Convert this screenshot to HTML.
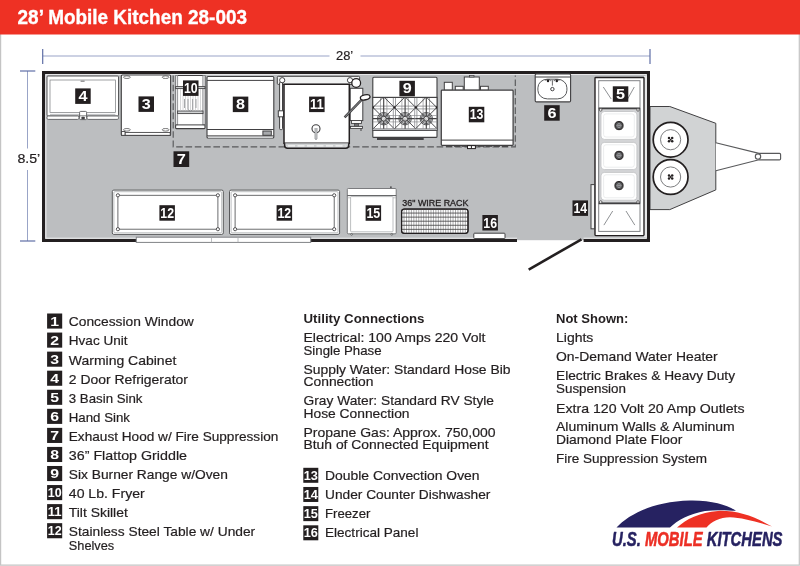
<!DOCTYPE html>
<html lang="en"><head><meta charset="utf-8"><title>28’ Mobile Kitchen 28-003</title>
<style>
html,body{margin:0;padding:0;background:#fff}
body{width:800px;height:566px;overflow:hidden}
svg{display:block;will-change:transform}
text{font-family:"Liberation Sans",sans-serif}
.title{font-size:20.4px;font-weight:bold;fill:#fff;stroke:#fff;stroke-width:0.35px}
.dim{font-size:12.4px;fill:#231f20;stroke:#231f20;stroke-width:0.2px}
.lb{font-size:13.2px;font-weight:bold;fill:#fff}
.t{font-size:13.2px;fill:#231f20;stroke:#231f20;stroke-width:0.2px}
.tb{font-size:13.2px;font-weight:bold;fill:#231f20}
.wr{font-size:8.8px;fill:#231f20;stroke:#231f20;stroke-width:0.3px}
.logo{font-size:21px;font-weight:bold;font-style:italic;stroke-width:0.55px;stroke-linejoin:round}
</style></head><body>
<svg width="800" height="566" viewBox="0 0 800 566">
<rect x="0" y="0" width="800" height="566" fill="#fff"/>
<path d="M0.6 34V565.2H799.3V34" fill="none" stroke="#c4c4c4" stroke-width="1.2"/>
<rect x="0" y="0" width="800" height="34.5" fill="#ee3124"/>
<text x="17.6" y="24.0" class="title" textLength="229.4" lengthAdjust="spacingAndGlyphs">28’ Mobile Kitchen 28-003</text>
<line x1="42.70" y1="56.00" x2="329.50" y2="56.00" stroke="#8794bd" stroke-width="0.85" />
<line x1="360.50" y1="56.00" x2="650.00" y2="56.00" stroke="#8794bd" stroke-width="0.85" />
<line x1="42.70" y1="49.00" x2="42.70" y2="64.00" stroke="#5f6ea6" stroke-width="1.20" />
<line x1="650.00" y1="49.00" x2="650.00" y2="64.00" stroke="#5f6ea6" stroke-width="1.20" />
<text x="336" y="60.4" class="dim" textLength="17.2" lengthAdjust="spacingAndGlyphs">28’</text>
<line x1="27.50" y1="71.00" x2="27.50" y2="148.50" stroke="#8794bd" stroke-width="0.85" />
<line x1="27.50" y1="170.00" x2="27.50" y2="241.00" stroke="#8794bd" stroke-width="0.85" />
<line x1="20.00" y1="71.00" x2="35.30" y2="71.00" stroke="#5f6ea6" stroke-width="1.20" />
<line x1="20.00" y1="241.00" x2="35.30" y2="241.00" stroke="#5f6ea6" stroke-width="1.20" />
<text x="17.4" y="163.1" class="dim" textLength="22.8" lengthAdjust="spacingAndGlyphs">8.5’</text>
<polygon points="650,106.5 669.8,106.5 715.8,123.3 715.8,189.9 669.8,209.6 650,209.6" fill="#d1d3d4" stroke="#414042" stroke-width="1"/>
<path d="M715.8 142.8L759 153.4H779.5Q780.6 153.4 780.6 154.5V158.7Q780.6 159.8 779.5 159.8H759L715.8 170.8" fill="#fff" stroke="#58595b" stroke-width="1.15"/>
<circle cx="758.00" cy="156.60" r="2.7" fill="#fff" stroke="#58595b" stroke-width="1.10" />
<circle cx="670.60" cy="139.70" r="17.4" fill="#fff" stroke="#231f20" stroke-width="1.70" />
<circle cx="670.60" cy="139.70" r="10.1" fill="#fff" stroke="#6d6e71" stroke-width="0.90" />
<circle cx="669.00" cy="138.10" r="1.25" fill="#231f20" stroke="none" stroke-width="0.00" />
<circle cx="672.20" cy="138.10" r="1.25" fill="#231f20" stroke="none" stroke-width="0.00" />
<circle cx="669.00" cy="141.30" r="1.25" fill="#231f20" stroke="none" stroke-width="0.00" />
<circle cx="672.20" cy="141.30" r="1.25" fill="#231f20" stroke="none" stroke-width="0.00" />
<circle cx="670.60" cy="139.70" r="1.0" fill="#231f20" stroke="none" stroke-width="0.00" />
<circle cx="670.60" cy="177.00" r="17.4" fill="#fff" stroke="#231f20" stroke-width="1.70" />
<circle cx="670.60" cy="177.00" r="10.1" fill="#fff" stroke="#6d6e71" stroke-width="0.90" />
<circle cx="669.00" cy="175.40" r="1.25" fill="#231f20" stroke="none" stroke-width="0.00" />
<circle cx="672.20" cy="175.40" r="1.25" fill="#231f20" stroke="none" stroke-width="0.00" />
<circle cx="669.00" cy="178.60" r="1.25" fill="#231f20" stroke="none" stroke-width="0.00" />
<circle cx="672.20" cy="178.60" r="1.25" fill="#231f20" stroke="none" stroke-width="0.00" />
<circle cx="670.60" cy="177.00" r="1.0" fill="#231f20" stroke="none" stroke-width="0.00" />
<rect x="42" y="71" width="608" height="169.2" fill="#bcbec0"/>
<path d="M137 238.2H45.9V74.4H646.1V238.2H583.6M310 238.2H517" fill="none" stroke="#ececed" stroke-width="1"/>
<path d="M137 240.5H43.5V72.5H648.5V240.5H583.6M310 240.5H517" fill="none" stroke="#231f20" stroke-width="3" stroke-linejoin="miter"/>
<rect x="136.30" y="237.20" width="174.40" height="5.20" fill="#fff" stroke="#808285" stroke-width="1.00" />
<line x1="211.50" y1="237.20" x2="211.50" y2="242.40" stroke="#a7a9ac" stroke-width="0.75" />
<line x1="238.00" y1="237.20" x2="238.00" y2="242.40" stroke="#a7a9ac" stroke-width="0.75" />
<line x1="528.70" y1="269.60" x2="581.50" y2="239.30" stroke="#231f20" stroke-width="2.60" />
<path d="M173.2 75.4V146.8H515.3V75.4" fill="none" stroke="#58595b" stroke-width="1.15" stroke-dasharray="6.6 2.7"/>
<rect x="47.00" y="76.00" width="71.50" height="40.00" fill="#fff" stroke="#58595b" stroke-width="1.00" rx="1" />
<rect x="50.00" y="80.00" width="65.40" height="32.60" fill="#fff" stroke="#808285" stroke-width="0.75" />
<line x1="50.00" y1="114.40" x2="115.40" y2="114.40" stroke="#a7a9ac" stroke-width="0.75" />
<rect x="47.00" y="116.00" width="31.90" height="3.40" fill="#fff" stroke="#58595b" stroke-width="0.88" rx="1.2" />
<rect x="86.90" y="116.00" width="31.60" height="3.40" fill="#fff" stroke="#58595b" stroke-width="0.88" rx="1.2" />
<rect x="79.60" y="111.40" width="7.00" height="8.20" fill="#fff" stroke="#58595b" stroke-width="0.88" rx="1" />
<line x1="79.60" y1="115.80" x2="86.60" y2="115.80" stroke="#58595b" stroke-width="0.75" />
<rect x="81.40" y="116.80" width="3.40" height="2.40" fill="#414042" stroke="none" stroke-width="0.00" rx="0.8" />
<line x1="80.60" y1="81.20" x2="84.60" y2="81.20" stroke="#58595b" stroke-width="0.88" />
<rect x="75.20" y="88.40" width="15.5" height="15.5" fill="#231f20"/>
<text x="78.45" y="100.95" class="lb" style="font-size:14.0px" textLength="9.0" lengthAdjust="spacingAndGlyphs">4</text>
<rect x="121.30" y="75.00" width="49.30" height="60.50" fill="#fff" stroke="#414042" stroke-width="1.12" rx="1" />
<rect x="125.00" y="132.40" width="45.20" height="2.90" fill="#fff" stroke="#414042" stroke-width="0.88" />
<rect x="121.60" y="131.50" width="3.40" height="3.80" fill="#fff" stroke="#414042" stroke-width="0.88" />
<ellipse cx="126.9" cy="77.2" rx="3.4" ry="1.3" fill="#fff" stroke="#414042" stroke-width="0.7"/>
<ellipse cx="126.9" cy="129.8" rx="3.4" ry="1.3" fill="#fff" stroke="#414042" stroke-width="0.7"/>
<ellipse cx="165.6" cy="77.2" rx="3.4" ry="1.3" fill="#fff" stroke="#414042" stroke-width="0.7"/>
<ellipse cx="165.6" cy="129.8" rx="3.4" ry="1.3" fill="#fff" stroke="#414042" stroke-width="0.7"/>
<rect x="138.50" y="96.40" width="15.5" height="15.5" fill="#231f20"/>
<text x="141.75" y="108.95" class="lb" style="font-size:14.0px" textLength="9.0" lengthAdjust="spacingAndGlyphs">3</text>
<rect x="175.60" y="75.50" width="29.40" height="53.10" fill="#fff" stroke="#414042" stroke-width="1.12" rx="0.8" />
<line x1="177.60" y1="75.50" x2="177.60" y2="124.90" stroke="#808285" stroke-width="0.75" />
<line x1="203.00" y1="75.50" x2="203.00" y2="124.90" stroke="#808285" stroke-width="0.75" />
<rect x="175.60" y="75.50" width="2.00" height="49.40" fill="#e6e7e8" stroke="#808285" stroke-width="0.62" />
<rect x="203.00" y="75.50" width="2.00" height="49.40" fill="#e6e7e8" stroke="#808285" stroke-width="0.62" />
<rect x="175.60" y="86.60" width="29.40" height="2.00" fill="#d1d3d4" stroke="#414042" stroke-width="0.88" />
<rect x="177.60" y="111.00" width="25.40" height="2.60" fill="#d1d3d4" stroke="#414042" stroke-width="0.88" />
<line x1="175.60" y1="124.90" x2="205.00" y2="124.90" stroke="#414042" stroke-width="1.00" />
<line x1="180.50" y1="89.00" x2="180.50" y2="111.00" stroke="#bcbec0" stroke-width="0.62" />
<line x1="183.00" y1="89.00" x2="183.00" y2="111.00" stroke="#bcbec0" stroke-width="0.62" />
<line x1="185.50" y1="89.00" x2="185.50" y2="111.00" stroke="#bcbec0" stroke-width="0.62" />
<line x1="188.00" y1="89.00" x2="188.00" y2="111.00" stroke="#bcbec0" stroke-width="0.62" />
<line x1="190.50" y1="89.00" x2="190.50" y2="111.00" stroke="#bcbec0" stroke-width="0.62" />
<line x1="193.00" y1="89.00" x2="193.00" y2="111.00" stroke="#bcbec0" stroke-width="0.62" />
<line x1="195.50" y1="89.00" x2="195.50" y2="111.00" stroke="#bcbec0" stroke-width="0.62" />
<line x1="198.00" y1="89.00" x2="198.00" y2="111.00" stroke="#bcbec0" stroke-width="0.62" />
<line x1="200.50" y1="89.00" x2="200.50" y2="111.00" stroke="#bcbec0" stroke-width="0.62" />
<path d="M184.5 99V108M188 99V109.5L190.3 111.5L192.6 109.5V99M196 99V108" fill="none" stroke="#808285" stroke-width="0.7"/>
<rect x="183.00" y="80.40" width="15.5" height="15.5" fill="#231f20"/>
<text x="183.90" y="92.95" class="lb" style="font-size:14.0px" textLength="13.7" lengthAdjust="spacingAndGlyphs">10</text>
<rect x="207.00" y="76.50" width="66.80" height="61.50" fill="#fff" stroke="#414042" stroke-width="1.12" rx="1" />
<line x1="207.00" y1="80.40" x2="273.80" y2="80.40" stroke="#414042" stroke-width="1.00" />
<line x1="207.00" y1="129.50" x2="273.80" y2="129.50" stroke="#414042" stroke-width="1.00" />
<rect x="208.00" y="135.80" width="64.80" height="2.20" fill="#d1d3d4" stroke="none" stroke-width="0.00" />
<line x1="207.00" y1="135.80" x2="273.80" y2="135.80" stroke="#414042" stroke-width="0.88" />
<rect x="262.90" y="131.00" width="8.40" height="4.30" fill="#a7a9ac" stroke="#414042" stroke-width="1.00" />
<rect x="232.80" y="96.60" width="15.5" height="15.5" fill="#231f20"/>
<text x="236.05" y="109.15" class="lb" style="font-size:14.0px" textLength="9.0" lengthAdjust="spacingAndGlyphs">8</text>
<rect x="277.30" y="76.30" width="82.30" height="8.10" fill="#f1f2f2" stroke="#414042" stroke-width="1.00" rx="1" />
<rect x="350.20" y="88.30" width="12.60" height="32.30" fill="#fff" stroke="#414042" stroke-width="1.00" />
<rect x="351.50" y="120.60" width="10.00" height="2.80" fill="#fff" stroke="#414042" stroke-width="0.88" />
<rect x="354.50" y="123.40" width="4.00" height="3.00" fill="#6d6e71" stroke="#414042" stroke-width="0.75" />
<rect x="350.50" y="126.40" width="12.00" height="2.00" fill="#fff" stroke="#414042" stroke-width="0.88" />
<line x1="361.00" y1="128.40" x2="361.00" y2="131.00" stroke="#414042" stroke-width="1.00" />
<rect x="279.60" y="82.00" width="2.90" height="47.60" fill="#fff" stroke="#414042" stroke-width="1.00" rx="1" />
<rect x="278.30" y="110.80" width="5.40" height="6.00" fill="#fff" stroke="#414042" stroke-width="1.00" />
<circle cx="282.20" cy="80.20" r="2.6" fill="#fff" stroke="#414042" stroke-width="1.00" />
<circle cx="350.00" cy="80.20" r="2.6" fill="#fff" stroke="#414042" stroke-width="1.00" />
<circle cx="356.20" cy="83.00" r="4.4" fill="#fff" stroke="#231f20" stroke-width="1.25" />
<path d="M284 84.3H349.3V143.2H284Z" fill="#fff" stroke="#231f20" stroke-width="1.5"/>
<path d="M284.6 143.2V145.3Q284.6 148.3 287.6 148.3H345.7Q348.7 148.3 348.7 145.3V143.2" fill="#d1d3d4" stroke="#231f20" stroke-width="1.5"/>
<path d="M288 145.9H345.3" fill="none" stroke="#fff" stroke-width="1" stroke-dasharray="7 2.5"/>
<line x1="344.60" y1="117.30" x2="362.00" y2="99.40" stroke="#414042" stroke-width="2.50" />
<line x1="345.20" y1="116.70" x2="361.60" y2="99.80" stroke="#a7a9ac" stroke-width="0.75" />
<ellipse cx="365.2" cy="97.3" rx="4.9" ry="2.5" fill="#fff" stroke="#231f20" stroke-width="1.3" transform="rotate(-12 365.2 97.3)"/>
<circle cx="316.00" cy="128.80" r="4" fill="#fff" stroke="#414042" stroke-width="1.12" />
<path d="M315 128V139Q316 140.2 317 139V128" fill="#d1d3d4" stroke="#808285" stroke-width="0.7"/>
<rect x="309.10" y="96.60" width="15.5" height="15.5" fill="#231f20"/>
<text x="310.00" y="109.15" class="lb" style="font-size:14.0px" textLength="13.7" lengthAdjust="spacingAndGlyphs">11</text>
<rect x="372.80" y="77.20" width="64.20" height="60.20" fill="#fff" stroke="#414042" stroke-width="1.12" rx="1" />
<line x1="377.00" y1="138.90" x2="423.70" y2="138.90" stroke="#414042" stroke-width="2.00" />
<rect x="372.80" y="97.40" width="64.20" height="33.00" fill="#fff" stroke="#414042" stroke-width="1.00" />
<clipPath id="bg"><rect x="372.8" y="97.4" width="64.2" height="33"/></clipPath><g clip-path="url(#bg)">
<line x1="372.80" y1="106.10" x2="437.00" y2="106.10" stroke="#808285" stroke-width="0.75" />
<line x1="372.80" y1="108.90" x2="437.00" y2="108.90" stroke="#808285" stroke-width="0.75" />
<line x1="372.80" y1="128.60" x2="437.00" y2="128.60" stroke="#808285" stroke-width="0.75" />
<line x1="380.50" y1="97.40" x2="380.50" y2="130.40" stroke="#808285" stroke-width="0.62" />
<line x1="386.90" y1="97.40" x2="386.90" y2="130.40" stroke="#808285" stroke-width="0.62" />
<line x1="373.00" y1="115.50" x2="394.40" y2="115.50" stroke="#808285" stroke-width="0.62" />
<line x1="373.00" y1="121.90" x2="394.40" y2="121.90" stroke="#808285" stroke-width="0.62" />
<circle cx="383.70" cy="118.70" r="6.2" fill="#fff" stroke="#58595b" stroke-width="1.00" />
<circle cx="383.70" cy="118.70" r="4.9" fill="none" stroke="#6d6e71" stroke-width="1.12" />
<circle cx="383.70" cy="118.70" r="3.6" fill="none" stroke="#808285" stroke-width="1.00" />
<line x1="383.70" y1="97.40" x2="383.70" y2="130.40" stroke="#414042" stroke-width="1.12" />
<line x1="373.00" y1="118.70" x2="394.40" y2="118.70" stroke="#414042" stroke-width="1.19" />
<line x1="373.00" y1="107.50" x2="394.40" y2="128.90" stroke="#414042" stroke-width="0.94" />
<line x1="394.40" y1="107.50" x2="373.00" y2="128.90" stroke="#414042" stroke-width="0.94" />
<line x1="373.00" y1="107.50" x2="383.70" y2="96.80" stroke="#414042" stroke-width="0.94" />
<line x1="394.40" y1="107.50" x2="383.70" y2="96.80" stroke="#414042" stroke-width="0.94" />
<circle cx="383.70" cy="118.70" r="2.4" fill="#fff" stroke="#414042" stroke-width="1.00" />
<circle cx="383.70" cy="118.70" r="1.0" fill="#fff" stroke="#808285" stroke-width="0.50" />
<line x1="401.90" y1="97.40" x2="401.90" y2="130.40" stroke="#808285" stroke-width="0.62" />
<line x1="408.30" y1="97.40" x2="408.30" y2="130.40" stroke="#808285" stroke-width="0.62" />
<line x1="394.40" y1="115.50" x2="415.80" y2="115.50" stroke="#808285" stroke-width="0.62" />
<line x1="394.40" y1="121.90" x2="415.80" y2="121.90" stroke="#808285" stroke-width="0.62" />
<line x1="393.30" y1="97.40" x2="393.30" y2="130.40" stroke="#808285" stroke-width="0.75" />
<line x1="395.50" y1="97.40" x2="395.50" y2="130.40" stroke="#808285" stroke-width="0.75" />
<circle cx="405.10" cy="118.70" r="6.2" fill="#fff" stroke="#58595b" stroke-width="1.00" />
<circle cx="405.10" cy="118.70" r="4.9" fill="none" stroke="#6d6e71" stroke-width="1.12" />
<circle cx="405.10" cy="118.70" r="3.6" fill="none" stroke="#808285" stroke-width="1.00" />
<line x1="405.10" y1="97.40" x2="405.10" y2="130.40" stroke="#414042" stroke-width="1.12" />
<line x1="394.40" y1="118.70" x2="415.80" y2="118.70" stroke="#414042" stroke-width="1.19" />
<line x1="394.40" y1="107.50" x2="415.80" y2="128.90" stroke="#414042" stroke-width="0.94" />
<line x1="415.80" y1="107.50" x2="394.40" y2="128.90" stroke="#414042" stroke-width="0.94" />
<line x1="394.40" y1="107.50" x2="405.10" y2="96.80" stroke="#414042" stroke-width="0.94" />
<line x1="415.80" y1="107.50" x2="405.10" y2="96.80" stroke="#414042" stroke-width="0.94" />
<circle cx="405.10" cy="118.70" r="2.4" fill="#fff" stroke="#414042" stroke-width="1.00" />
<circle cx="405.10" cy="118.70" r="1.0" fill="#fff" stroke="#808285" stroke-width="0.50" />
<line x1="423.10" y1="97.40" x2="423.10" y2="130.40" stroke="#808285" stroke-width="0.62" />
<line x1="429.50" y1="97.40" x2="429.50" y2="130.40" stroke="#808285" stroke-width="0.62" />
<line x1="415.80" y1="115.50" x2="436.80" y2="115.50" stroke="#808285" stroke-width="0.62" />
<line x1="415.80" y1="121.90" x2="436.80" y2="121.90" stroke="#808285" stroke-width="0.62" />
<line x1="414.70" y1="97.40" x2="414.70" y2="130.40" stroke="#808285" stroke-width="0.75" />
<line x1="416.90" y1="97.40" x2="416.90" y2="130.40" stroke="#808285" stroke-width="0.75" />
<circle cx="426.30" cy="118.70" r="6.2" fill="#fff" stroke="#58595b" stroke-width="1.00" />
<circle cx="426.30" cy="118.70" r="4.9" fill="none" stroke="#6d6e71" stroke-width="1.12" />
<circle cx="426.30" cy="118.70" r="3.6" fill="none" stroke="#808285" stroke-width="1.00" />
<line x1="426.30" y1="97.40" x2="426.30" y2="130.40" stroke="#414042" stroke-width="1.12" />
<line x1="415.80" y1="118.70" x2="436.80" y2="118.70" stroke="#414042" stroke-width="1.19" />
<line x1="415.80" y1="107.50" x2="436.80" y2="128.50" stroke="#414042" stroke-width="0.94" />
<line x1="436.80" y1="107.50" x2="415.80" y2="128.50" stroke="#414042" stroke-width="0.94" />
<line x1="415.80" y1="107.50" x2="426.30" y2="97.00" stroke="#414042" stroke-width="0.94" />
<line x1="436.80" y1="107.50" x2="426.30" y2="97.00" stroke="#414042" stroke-width="0.94" />
<circle cx="426.30" cy="118.70" r="2.4" fill="#fff" stroke="#414042" stroke-width="1.00" />
<circle cx="426.30" cy="118.70" r="1.0" fill="#fff" stroke="#808285" stroke-width="0.50" />
<circle cx="373.00" cy="107.50" r="1.15" fill="#231f20" stroke="none" stroke-width="0.00" />
<circle cx="373.00" cy="129.80" r="0.9" fill="#231f20" stroke="none" stroke-width="0.00" />
<circle cx="394.40" cy="107.50" r="1.15" fill="#231f20" stroke="none" stroke-width="0.00" />
<circle cx="394.40" cy="129.80" r="0.9" fill="#231f20" stroke="none" stroke-width="0.00" />
<circle cx="415.80" cy="107.50" r="1.15" fill="#231f20" stroke="none" stroke-width="0.00" />
<circle cx="415.80" cy="129.80" r="0.9" fill="#231f20" stroke="none" stroke-width="0.00" />
<circle cx="436.80" cy="107.50" r="1.15" fill="#231f20" stroke="none" stroke-width="0.00" />
<circle cx="436.80" cy="129.80" r="0.9" fill="#231f20" stroke="none" stroke-width="0.00" />
</g>
<line x1="372.80" y1="97.40" x2="437.00" y2="97.40" stroke="#414042" stroke-width="0.88" />
<rect x="372.80" y="128.80" width="64.20" height="1.60" fill="#bcbec0" stroke="none" stroke-width="0.00" />
<line x1="372.80" y1="130.40" x2="437.00" y2="130.40" stroke="#414042" stroke-width="0.75" />
<rect x="399.40" y="80.80" width="15.5" height="15.5" fill="#231f20"/>
<text x="402.65" y="93.35" class="lb" style="font-size:14.0px" textLength="9.0" lengthAdjust="spacingAndGlyphs">9</text>
<rect x="444.30" y="82.30" width="8.00" height="7.90" fill="#fff" stroke="#414042" stroke-width="1.00" />
<rect x="455.30" y="86.30" width="7.90" height="3.90" fill="#fff" stroke="#414042" stroke-width="1.00" />
<rect x="464.30" y="77.00" width="15.00" height="13.20" fill="#fff" stroke="#414042" stroke-width="1.00" />
<rect x="469.50" y="75.60" width="4.50" height="1.40" fill="#d1d3d4" stroke="#414042" stroke-width="0.75" />
<rect x="480.50" y="86.30" width="7.80" height="3.90" fill="#fff" stroke="#414042" stroke-width="1.00" />
<rect x="441.30" y="90.20" width="71.80" height="55.20" fill="#fff" stroke="#414042" stroke-width="1.25" rx="0.8" />
<line x1="441.30" y1="140.10" x2="513.10" y2="140.10" stroke="#414042" stroke-width="1.00" />
<path d="M446 146.3H509" fill="none" stroke="#414042" stroke-width="1" stroke-dasharray="6 2"/>
<rect x="467.50" y="145.60" width="7.90" height="3.00" fill="#fff" stroke="#231f20" stroke-width="1.00" />
<line x1="471.40" y1="145.60" x2="471.40" y2="148.60" stroke="#231f20" stroke-width="1.00" />
<rect x="468.80" y="106.80" width="15.5" height="15.5" fill="#231f20"/>
<text x="469.70" y="119.35" class="lb" style="font-size:14.0px" textLength="13.7" lengthAdjust="spacingAndGlyphs">13</text>
<rect x="535.20" y="73.90" width="35.40" height="28.00" fill="#fff" stroke="#414042" stroke-width="1.12" rx="1.2" />
<line x1="535.20" y1="77.00" x2="570.60" y2="77.00" stroke="#414042" stroke-width="1.00" />
<rect x="537.9" y="79.2" width="29" height="19.7" rx="9.5" ry="8.6" fill="#fff" stroke="#58595b" stroke-width="1"/>
<circle cx="552.40" cy="89.10" r="1.7" fill="#fff" stroke="#414042" stroke-width="1.00" />
<path d="M545.6 80.9Q546.4 78.9 548 79.9Q550 78.6 550.6 81.2M559.2 80.9Q558.4 78.9 556.8 79.9Q554.8 78.6 554.2 81.2M552.4 80.2V85.6" fill="none" stroke="#414042" stroke-width="0.8"/>
<ellipse cx="548" cy="80.9" rx="1.2" ry="1.4" fill="#231f20"/><ellipse cx="556.8" cy="80.9" rx="1.2" ry="1.4" fill="#231f20"/>
<path d="M550.5 80H554.3" stroke="#808285" stroke-width="0.7"/>
<rect x="544.20" y="105.20" width="15.5" height="15.5" fill="#231f20"/>
<text x="547.45" y="117.75" class="lb" style="font-size:14.0px" textLength="9.0" lengthAdjust="spacingAndGlyphs">6</text>
<rect x="644" y="76" width="3" height="161" fill="#e6e7e8"/>
<rect x="595.00" y="77.50" width="49.00" height="158.10" fill="#fff" stroke="#231f20" stroke-width="1.38" rx="0.8" />
<rect x="598.70" y="80.70" width="41.30" height="150.70" fill="#fff" stroke="#808285" stroke-width="1.00" />
<rect x="598.70" y="108.40" width="41.30" height="94.80" fill="#d4d5d7" stroke="#808285" stroke-width="1.00" />
<line x1="598.70" y1="108.40" x2="640.00" y2="108.40" stroke="#414042" stroke-width="1.62" />
<line x1="598.70" y1="203.40" x2="640.00" y2="203.40" stroke="#414042" stroke-width="1.62" />
<circle cx="600.70" cy="109.90" r="1.3" fill="#fff" stroke="#414042" stroke-width="0.75" />
<circle cx="638.00" cy="109.90" r="1.3" fill="#fff" stroke="#414042" stroke-width="0.75" />
<circle cx="600.70" cy="202.00" r="1.3" fill="#fff" stroke="#414042" stroke-width="0.75" />
<circle cx="638.00" cy="202.00" r="1.3" fill="#fff" stroke="#414042" stroke-width="0.75" />
<rect x="601.00" y="111.50" width="35.90" height="27.90" fill="#fff" stroke="#bcbec0" stroke-width="0.75" rx="3.4" />
<rect x="603.60" y="113.90" width="30.70" height="23.10" fill="none" stroke="#e6e7e8" stroke-width="0.75" rx="2.4" />
<circle cx="619.00" cy="125.60" r="4.1" fill="#4d4d4f" stroke="#231f20" stroke-width="1.00" />
<path d="M616.6 125.6H621.4M619 123.19999999999999V128.0" stroke="#a7a9ac" stroke-width="0.7" fill="none"/>
<circle cx="619.00" cy="125.60" r="2.1" fill="none" stroke="#a7a9ac" stroke-width="0.62" />
<rect x="601.00" y="142.40" width="35.90" height="27.20" fill="#fff" stroke="#bcbec0" stroke-width="0.75" rx="3.4" />
<rect x="603.60" y="144.80" width="30.70" height="22.40" fill="none" stroke="#e6e7e8" stroke-width="0.75" rx="2.4" />
<circle cx="619.00" cy="155.40" r="4.1" fill="#4d4d4f" stroke="#231f20" stroke-width="1.00" />
<path d="M616.6 155.4H621.4M619 153.0V157.8" stroke="#a7a9ac" stroke-width="0.7" fill="none"/>
<circle cx="619.00" cy="155.40" r="2.1" fill="none" stroke="#a7a9ac" stroke-width="0.62" />
<rect x="601.00" y="172.40" width="35.90" height="27.80" fill="#fff" stroke="#bcbec0" stroke-width="0.75" rx="3.4" />
<rect x="603.60" y="174.80" width="30.70" height="23.00" fill="none" stroke="#e6e7e8" stroke-width="0.75" rx="2.4" />
<circle cx="619.00" cy="185.60" r="4.1" fill="#4d4d4f" stroke="#231f20" stroke-width="1.00" />
<path d="M616.6 185.6H621.4M619 183.2V188.0" stroke="#a7a9ac" stroke-width="0.7" fill="none"/>
<circle cx="619.00" cy="185.60" r="2.1" fill="none" stroke="#a7a9ac" stroke-width="0.62" />
<line x1="603.30" y1="87.00" x2="611.20" y2="99.00" stroke="#808285" stroke-width="0.88" />
<line x1="634.30" y1="87.00" x2="627.60" y2="99.00" stroke="#808285" stroke-width="0.88" />
<line x1="612.70" y1="211.00" x2="603.90" y2="225.10" stroke="#808285" stroke-width="0.88" />
<line x1="626.00" y1="211.00" x2="634.80" y2="225.10" stroke="#808285" stroke-width="0.88" />
<rect x="612.80" y="86.30" width="15.5" height="15.5" fill="#231f20"/>
<text x="616.05" y="98.85" class="lb" style="font-size:14.0px" textLength="9.0" lengthAdjust="spacingAndGlyphs">5</text>
<rect x="591.00" y="184.60" width="3.60" height="44.20" fill="#f1f2f2" stroke="#414042" stroke-width="1.00" />
<rect x="572.50" y="200.40" width="15.5" height="15.5" fill="#231f20"/>
<text x="573.40" y="212.95" class="lb" style="font-size:14.0px" textLength="13.7" lengthAdjust="spacingAndGlyphs">14</text>
<rect x="112.30" y="190.10" width="111.00" height="44.30" fill="#fff" stroke="#58595b" stroke-width="1.00" rx="1.5" />
<rect x="113.90" y="191.70" width="107.80" height="41.10" fill="none" stroke="#a7a9ac" stroke-width="0.75" rx="1" />
<rect x="117.90" y="195.30" width="100.00" height="33.90" fill="#fff" stroke="#58595b" stroke-width="0.88" />
<circle cx="117.90" cy="195.30" r="1.6" fill="#fff" stroke="#414042" stroke-width="0.88" />
<circle cx="117.90" cy="229.20" r="1.6" fill="#fff" stroke="#414042" stroke-width="0.88" />
<circle cx="217.90" cy="195.30" r="1.6" fill="#fff" stroke="#414042" stroke-width="0.88" />
<circle cx="217.90" cy="229.20" r="1.6" fill="#fff" stroke="#414042" stroke-width="0.88" />
<rect x="159.40" y="205.20" width="15.5" height="15.5" fill="#231f20"/>
<text x="160.30" y="217.75" class="lb" style="font-size:14.0px" textLength="13.7" lengthAdjust="spacingAndGlyphs">12</text>
<rect x="229.50" y="190.10" width="110.10" height="44.30" fill="#fff" stroke="#58595b" stroke-width="1.00" rx="1.5" />
<rect x="231.10" y="191.70" width="106.90" height="41.10" fill="none" stroke="#a7a9ac" stroke-width="0.75" rx="1" />
<rect x="235.10" y="195.30" width="99.10" height="33.90" fill="#fff" stroke="#58595b" stroke-width="0.88" />
<circle cx="235.10" cy="195.30" r="1.6" fill="#fff" stroke="#414042" stroke-width="0.88" />
<circle cx="235.10" cy="229.20" r="1.6" fill="#fff" stroke="#414042" stroke-width="0.88" />
<circle cx="334.20" cy="195.30" r="1.6" fill="#fff" stroke="#414042" stroke-width="0.88" />
<circle cx="334.20" cy="229.20" r="1.6" fill="#fff" stroke="#414042" stroke-width="0.88" />
<rect x="276.60" y="205.20" width="15.5" height="15.5" fill="#231f20"/>
<text x="277.50" y="217.75" class="lb" style="font-size:14.0px" textLength="13.7" lengthAdjust="spacingAndGlyphs">12</text>
<rect x="390.20" y="186.40" width="1.40" height="2.20" fill="#414042" stroke="none" stroke-width="0.00" />
<rect x="347.30" y="188.50" width="48.90" height="45.30" fill="#fff" stroke="#6d6e71" stroke-width="0.88" rx="1" />
<line x1="347.30" y1="195.60" x2="396.20" y2="195.60" stroke="#58595b" stroke-width="1.00" />
<rect x="350.60" y="196.60" width="42.40" height="35.20" fill="#fff" stroke="#a7a9ac" stroke-width="0.75" rx="0.8" />
<line x1="347.60" y1="197.80" x2="350.60" y2="197.80" stroke="#a7a9ac" stroke-width="0.62" />
<line x1="393.00" y1="197.80" x2="396.00" y2="197.80" stroke="#a7a9ac" stroke-width="0.62" />
<circle cx="351.60" cy="234.40" r="0.9" fill="#d1d3d4" stroke="#58595b" stroke-width="0.75" />
<circle cx="391.80" cy="234.40" r="0.9" fill="#d1d3d4" stroke="#58595b" stroke-width="0.75" />
<rect x="365.60" y="205.30" width="15.5" height="15.5" fill="#231f20"/>
<text x="366.45" y="217.85" class="lb" style="font-size:14.0px" textLength="13.8" lengthAdjust="spacingAndGlyphs">15</text>
<clipPath id="wr"><rect x="401.6" y="209" width="66.4" height="24.4" rx="2.6"/></clipPath>
<rect x="401.60" y="209.00" width="66.40" height="24.40" fill="#fff" stroke="#231f20" stroke-width="1.25" rx="2.6" />
<g clip-path="url(#wr)">
<line x1="404.05" y1="209.00" x2="404.05" y2="233.40" stroke="#58595b" stroke-width="0.50" />
<line x1="406.50" y1="209.00" x2="406.50" y2="233.40" stroke="#58595b" stroke-width="0.50" />
<line x1="408.95" y1="209.00" x2="408.95" y2="233.40" stroke="#58595b" stroke-width="0.50" />
<line x1="411.40" y1="209.00" x2="411.40" y2="233.40" stroke="#58595b" stroke-width="0.50" />
<line x1="413.85" y1="209.00" x2="413.85" y2="233.40" stroke="#58595b" stroke-width="0.50" />
<line x1="416.30" y1="209.00" x2="416.30" y2="233.40" stroke="#58595b" stroke-width="0.50" />
<line x1="418.75" y1="209.00" x2="418.75" y2="233.40" stroke="#58595b" stroke-width="0.50" />
<line x1="421.20" y1="209.00" x2="421.20" y2="233.40" stroke="#58595b" stroke-width="0.50" />
<line x1="423.65" y1="209.00" x2="423.65" y2="233.40" stroke="#58595b" stroke-width="0.50" />
<line x1="426.10" y1="209.00" x2="426.10" y2="233.40" stroke="#58595b" stroke-width="0.50" />
<line x1="428.55" y1="209.00" x2="428.55" y2="233.40" stroke="#58595b" stroke-width="0.50" />
<line x1="431.00" y1="209.00" x2="431.00" y2="233.40" stroke="#58595b" stroke-width="0.50" />
<line x1="433.45" y1="209.00" x2="433.45" y2="233.40" stroke="#58595b" stroke-width="0.50" />
<line x1="435.90" y1="209.00" x2="435.90" y2="233.40" stroke="#58595b" stroke-width="0.50" />
<line x1="438.35" y1="209.00" x2="438.35" y2="233.40" stroke="#58595b" stroke-width="0.50" />
<line x1="440.80" y1="209.00" x2="440.80" y2="233.40" stroke="#58595b" stroke-width="0.50" />
<line x1="443.25" y1="209.00" x2="443.25" y2="233.40" stroke="#58595b" stroke-width="0.50" />
<line x1="445.70" y1="209.00" x2="445.70" y2="233.40" stroke="#58595b" stroke-width="0.50" />
<line x1="448.15" y1="209.00" x2="448.15" y2="233.40" stroke="#58595b" stroke-width="0.50" />
<line x1="450.60" y1="209.00" x2="450.60" y2="233.40" stroke="#58595b" stroke-width="0.50" />
<line x1="453.05" y1="209.00" x2="453.05" y2="233.40" stroke="#58595b" stroke-width="0.50" />
<line x1="455.50" y1="209.00" x2="455.50" y2="233.40" stroke="#58595b" stroke-width="0.50" />
<line x1="457.95" y1="209.00" x2="457.95" y2="233.40" stroke="#58595b" stroke-width="0.50" />
<line x1="460.40" y1="209.00" x2="460.40" y2="233.40" stroke="#58595b" stroke-width="0.50" />
<line x1="462.85" y1="209.00" x2="462.85" y2="233.40" stroke="#58595b" stroke-width="0.50" />
<line x1="465.30" y1="209.00" x2="465.30" y2="233.40" stroke="#58595b" stroke-width="0.50" />
<line x1="401.60" y1="213.07" x2="468.00" y2="213.07" stroke="#414042" stroke-width="0.81" />
<line x1="401.60" y1="217.14" x2="468.00" y2="217.14" stroke="#414042" stroke-width="0.81" />
<line x1="401.60" y1="221.21" x2="468.00" y2="221.21" stroke="#414042" stroke-width="0.81" />
<line x1="401.60" y1="225.28" x2="468.00" y2="225.28" stroke="#414042" stroke-width="0.81" />
<line x1="401.60" y1="229.35" x2="468.00" y2="229.35" stroke="#414042" stroke-width="0.81" />
</g>
<rect x="401.60" y="209.00" width="66.40" height="24.40" fill="none" stroke="#231f20" stroke-width="1.00" rx="2.6" />
<text x="402.3" y="206.4" class="wr" textLength="66.2" lengthAdjust="spacingAndGlyphs">36" WIRE RACK</text>
<rect x="473.80" y="233.20" width="31.20" height="5.40" fill="#fff" stroke="#414042" stroke-width="1.00" rx="0.8" />
<rect x="482.40" y="215.00" width="15.5" height="15.5" fill="#231f20"/>
<text x="483.30" y="227.55" class="lb" style="font-size:14.0px" textLength="13.7" lengthAdjust="spacingAndGlyphs">16</text>
<rect x="173.50" y="151.30" width="15.7" height="15.7" fill="#231f20"/>
<text x="176.79" y="164.01" class="lb" style="font-size:14.2px" textLength="9.1" lengthAdjust="spacingAndGlyphs">7</text>
<rect x="47.10" y="313.50" width="15.1" height="15.1" fill="#231f20"/>
<text x="50.27" y="325.73" class="lb" style="font-size:13.6px" textLength="8.8" lengthAdjust="spacingAndGlyphs">1</text>
<text x="68.80" y="326.30" class="t" textLength="125.0" lengthAdjust="spacingAndGlyphs">Concession Window</text>
<rect x="47.10" y="332.56" width="15.1" height="15.1" fill="#231f20"/>
<text x="50.27" y="344.79" class="lb" style="font-size:13.6px" textLength="8.8" lengthAdjust="spacingAndGlyphs">2</text>
<text x="68.80" y="345.40" class="t" textLength="58.7" lengthAdjust="spacingAndGlyphs">Hvac Unit</text>
<rect x="47.10" y="351.62" width="15.1" height="15.1" fill="#231f20"/>
<text x="50.27" y="363.85" class="lb" style="font-size:13.6px" textLength="8.8" lengthAdjust="spacingAndGlyphs">3</text>
<text x="68.80" y="364.50" class="t" textLength="107.5" lengthAdjust="spacingAndGlyphs">Warming Cabinet</text>
<rect x="47.10" y="370.68" width="15.1" height="15.1" fill="#231f20"/>
<text x="50.27" y="382.91" class="lb" style="font-size:13.6px" textLength="8.8" lengthAdjust="spacingAndGlyphs">4</text>
<text x="68.80" y="383.60" class="t" textLength="119.2" lengthAdjust="spacingAndGlyphs">2 Door Refrigerator</text>
<rect x="47.10" y="389.74" width="15.1" height="15.1" fill="#231f20"/>
<text x="50.27" y="401.97" class="lb" style="font-size:13.6px" textLength="8.8" lengthAdjust="spacingAndGlyphs">5</text>
<text x="68.80" y="402.70" class="t" textLength="73.7" lengthAdjust="spacingAndGlyphs">3 Basin Sink</text>
<rect x="47.10" y="408.80" width="15.1" height="15.1" fill="#231f20"/>
<text x="50.27" y="421.03" class="lb" style="font-size:13.6px" textLength="8.8" lengthAdjust="spacingAndGlyphs">6</text>
<text x="68.80" y="421.80" class="t" textLength="61.2" lengthAdjust="spacingAndGlyphs">Hand Sink</text>
<rect x="47.10" y="427.86" width="15.1" height="15.1" fill="#231f20"/>
<text x="50.27" y="440.09" class="lb" style="font-size:13.6px" textLength="8.8" lengthAdjust="spacingAndGlyphs">7</text>
<text x="68.80" y="440.90" class="t" textLength="209.5" lengthAdjust="spacingAndGlyphs">Exhaust Hood w/ Fire Suppression</text>
<rect x="47.10" y="446.92" width="15.1" height="15.1" fill="#231f20"/>
<text x="50.27" y="459.15" class="lb" style="font-size:13.6px" textLength="8.8" lengthAdjust="spacingAndGlyphs">8</text>
<text x="68.80" y="460.00" class="t" textLength="118.2" lengthAdjust="spacingAndGlyphs">36” Flattop Griddle</text>
<rect x="47.10" y="465.98" width="15.1" height="15.1" fill="#231f20"/>
<text x="50.27" y="478.21" class="lb" style="font-size:13.6px" textLength="8.8" lengthAdjust="spacingAndGlyphs">9</text>
<text x="68.80" y="479.10" class="t" textLength="159.1" lengthAdjust="spacingAndGlyphs">Six Burner Range w/Oven</text>
<rect x="47.10" y="485.04" width="15.1" height="15.1" fill="#231f20"/>
<text x="47.70" y="497.27" class="lb" style="font-size:13.6px" textLength="13.9" lengthAdjust="spacingAndGlyphs">10</text>
<text x="68.80" y="498.20" class="t" textLength="75.9" lengthAdjust="spacingAndGlyphs">40 Lb. Fryer</text>
<rect x="47.10" y="504.10" width="15.1" height="15.1" fill="#231f20"/>
<text x="47.70" y="516.33" class="lb" style="font-size:13.6px" textLength="13.9" lengthAdjust="spacingAndGlyphs">11</text>
<text x="68.80" y="517.30" class="t" textLength="59.0" lengthAdjust="spacingAndGlyphs">Tilt Skillet</text>
<rect x="47.10" y="523.16" width="15.1" height="15.1" fill="#231f20"/>
<text x="47.70" y="535.39" class="lb" style="font-size:13.6px" textLength="13.9" lengthAdjust="spacingAndGlyphs">12</text>
<text x="68.80" y="536.40" class="t" textLength="186.4" lengthAdjust="spacingAndGlyphs">Stainless Steel Table w/ Under</text>
<text x="68.80" y="549.50" class="t" textLength="45.4" lengthAdjust="spacingAndGlyphs">Shelves</text>
<text x="303.50" y="322.50" class="tb" textLength="121.0" lengthAdjust="spacingAndGlyphs">Utility Connections</text>
<text x="303.50" y="342.00" class="t" textLength="182.0" lengthAdjust="spacingAndGlyphs">Electrical: 100 Amps 220 Volt</text>
<text x="303.50" y="354.60" class="t" textLength="78.0" lengthAdjust="spacingAndGlyphs">Single Phase</text>
<text x="303.50" y="373.50" class="t" textLength="207.0" lengthAdjust="spacingAndGlyphs">Supply Water: Standard Hose Bib</text>
<text x="303.50" y="386.10" class="t" textLength="70.0" lengthAdjust="spacingAndGlyphs">Connection</text>
<text x="303.50" y="405.00" class="t" textLength="190.5" lengthAdjust="spacingAndGlyphs">Gray Water: Standard RV Style</text>
<text x="303.50" y="417.60" class="t" textLength="106.0" lengthAdjust="spacingAndGlyphs">Hose Connection</text>
<text x="303.50" y="436.50" class="t" textLength="192.0" lengthAdjust="spacingAndGlyphs">Propane Gas: Approx. 750,000</text>
<text x="303.50" y="449.10" class="t" textLength="185.0" lengthAdjust="spacingAndGlyphs">Btuh of Connected Equipment</text>
<rect x="303.30" y="467.80" width="15" height="15" fill="#231f20"/>
<text x="303.70" y="479.95" class="lb" style="font-size:13.5px" textLength="14.2" lengthAdjust="spacingAndGlyphs">13</text>
<text x="325.00" y="479.50" class="t" textLength="154.6" lengthAdjust="spacingAndGlyphs">Double Convection Oven</text>
<rect x="303.30" y="486.97" width="15" height="15" fill="#231f20"/>
<text x="303.70" y="499.12" class="lb" style="font-size:13.5px" textLength="14.2" lengthAdjust="spacingAndGlyphs">14</text>
<text x="325.00" y="498.55" class="t" textLength="165.4" lengthAdjust="spacingAndGlyphs">Under Counter Dishwasher</text>
<rect x="303.30" y="506.14" width="15" height="15" fill="#231f20"/>
<text x="303.70" y="518.29" class="lb" style="font-size:13.5px" textLength="14.2" lengthAdjust="spacingAndGlyphs">15</text>
<text x="325.00" y="517.60" class="t" textLength="45.4" lengthAdjust="spacingAndGlyphs">Freezer</text>
<rect x="303.30" y="525.31" width="15" height="15" fill="#231f20"/>
<text x="303.70" y="537.46" class="lb" style="font-size:13.5px" textLength="14.2" lengthAdjust="spacingAndGlyphs">16</text>
<text x="325.00" y="536.65" class="t" textLength="93.4" lengthAdjust="spacingAndGlyphs">Electrical Panel</text>
<text x="556.00" y="322.80" class="tb" textLength="72.3" lengthAdjust="spacingAndGlyphs">Not Shown:</text>
<text x="556.00" y="342.00" class="t" textLength="37.3" lengthAdjust="spacingAndGlyphs">Lights</text>
<text x="556.00" y="361.00" class="t" textLength="161.6" lengthAdjust="spacingAndGlyphs">On-Demand Water Heater</text>
<text x="556.00" y="380.00" class="t" textLength="179.0" lengthAdjust="spacingAndGlyphs">Electric Brakes &amp; Heavy Duty</text>
<text x="556.00" y="392.70" class="t" textLength="70.0" lengthAdjust="spacingAndGlyphs">Suspension</text>
<text x="556.00" y="412.70" class="t" textLength="188.6" lengthAdjust="spacingAndGlyphs">Extra 120 Volt 20 Amp Outlets</text>
<text x="556.00" y="431.00" class="t" textLength="178.8" lengthAdjust="spacingAndGlyphs">Aluminum Walls &amp; Aluminum</text>
<text x="556.00" y="443.70" class="t" textLength="126.3" lengthAdjust="spacingAndGlyphs">Diamond Plate Floor</text>
<text x="556.00" y="462.70" class="t" textLength="151.0" lengthAdjust="spacingAndGlyphs">Fire Suppression System</text>
<path d="M616.5 527.5C628 515 653 501.3 690 500.5C712 500.1 727 505 736 510.8C728 510.3 716 509.6 705 511C690 513.5 677 520.5 670 527.5Z" fill="#262261"/>
<path d="M677 527.5C685.5 519.5 700 512 718 510.9C738 510.2 757 517.5 772 526.6C757 521.8 742 517.6 730 517.2C720 517.2 711 521.5 706.5 527.5Z" fill="#ee3124"/>
<text x="612" y="546.4" class="logo" textLength="170.5" lengthAdjust="spacingAndGlyphs"><tspan fill="#262261" stroke="#262261">U.S. </tspan><tspan fill="#ec2f25" stroke="#ec2f25">MOBILE </tspan><tspan fill="#262261" stroke="#262261">KITCHENS</tspan></text>
</svg>
</body></html>
